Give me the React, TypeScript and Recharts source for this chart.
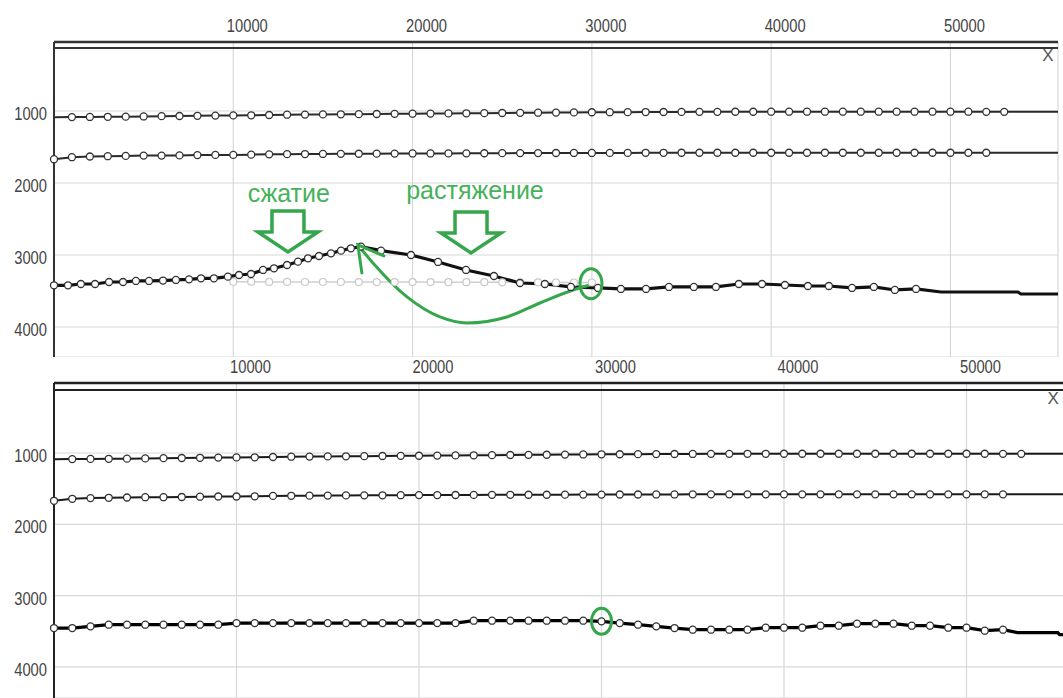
import { LineChart, Line, XAxis, YAxis, CartesianGrid, ReferenceLine, ReferenceDot } from 'recharts';

// ticks
const xTicks = [10000, 20000, 30000, 40000, 50000];
const yTicks = [1000, 2000, 3000, 4000];

// horizon 1 (markers 1000..53000 m)
const h1X = [1000, 2000, 3000, 4000, 5000, 6000, 7000, 8000, 9000, 10000, 11000, 12000, 13000, 14000, 15000, 16000, 17000, 18000, 19000, 20000, 21000, 22000, 23000, 24000, 25000, 26000, 27000, 28000, 29000, 30000, 31000, 32000, 33000, 34000, 35000, 36000, 37000, 38000, 39000, 40000, 41000, 42000, 43000, 44000, 45000, 46000, 47000, 48000, 49000, 50000, 51000, 52000, 53000];
const h1Depth = [1085, 1083, 1081, 1079, 1076, 1072, 1070, 1067, 1064, 1062, 1060, 1056, 1052, 1050, 1048, 1046, 1044, 1042, 1040, 1038, 1036, 1034, 1032, 1030, 1028, 1026, 1024, 1022, 1020, 1018, 1017, 1016, 1015, 1014, 1013, 1012, 1012, 1011, 1011, 1010, 1010, 1010, 1010, 1010, 1010, 1010, 1010, 1010, 1010, 1010, 1010, 1012, 1012];
const h1HeadX = [0];
const h1HeadDepth = [1088];
const h1TailX = [56000];
const h1TailDepth = [1012];

// horizon 2 (markers 0..52000 m)
const h2X = [0, 1000, 2000, 3000, 4000, 5000, 6000, 7000, 8000, 9000, 10000, 11000, 12000, 13000, 14000, 15000, 16000, 17000, 18000, 19000, 20000, 21000, 22000, 23000, 24000, 25000, 26000, 27000, 28000, 29000, 30000, 31000, 32000, 33000, 34000, 35000, 36000, 37000, 38000, 39000, 40000, 41000, 42000, 43000, 44000, 45000, 46000, 47000, 48000, 49000, 50000, 51000, 52000];
const h2Depth = [1670, 1642, 1632, 1628, 1624, 1620, 1620, 1617, 1613, 1610, 1610, 1607, 1602, 1600, 1598, 1597, 1595, 1594, 1593, 1592, 1590, 1590, 1589, 1588, 1587, 1586, 1585, 1585, 1584, 1583, 1583, 1582, 1582, 1581, 1581, 1580, 1580, 1580, 1580, 1580, 1580, 1580, 1580, 1580, 1580, 1580, 1580, 1580, 1580, 1580, 1580, 1580, 1580];
const h2TailX = [56000];
const h2TailDepth = [1580];

// horizon 3, top panel (deformed)
const h3TopX = [0, 780, 1500, 2290, 3070, 3850, 4570, 5300, 6080, 6800, 7530, 8200, 8920, 9700, 10320, 10990, 11660, 12270, 13000, 13610, 14170, 14780, 15450, 16010, 16560, 17120, 18240, 19910, 21420, 22980, 24540, 25990, 27380, 28830, 30340, 31620, 33020, 34300, 35690, 36920, 38200, 39490, 40770, 42050, 43220, 44510, 45730, 46900, 48080];
const h3TopDepth = [3421, 3421, 3403, 3403, 3375, 3375, 3361, 3361, 3355, 3347, 3338, 3324, 3324, 3301, 3278, 3264, 3208, 3185, 3139, 3093, 3046, 3014, 2977, 2940, 2907, 2884, 2940, 3000, 3097, 3208, 3292, 3389, 3403, 3444, 3458, 3472, 3472, 3444, 3444, 3444, 3403, 3403, 3417, 3431, 3431, 3458, 3444, 3486, 3472];
const h3TopTailX = [49470, 53760, 53930, 56000];
const h3TopTailDepth = [3514, 3514, 3542, 3542];

// horizon 3, top panel, original position (grey)
const h3OrigX = [10000, 11000, 12000, 13000, 14000, 15000, 16000, 17000, 18000, 19000, 20000, 21000, 22000, 23000, 24000, 25000, 26000, 27000, 28000, 29000, 30000];
const h3OrigDepth = [3372, 3372, 3374, 3374, 3375, 3375, 3375, 3376, 3376, 3376, 3377, 3377, 3378, 3378, 3378, 3380, 3380, 3380, 3382, 3382, 3382];

// horizon 3, bottom panel (restored)
const h3BotX = [0, 1000, 2000, 3000, 4000, 5000, 6000, 7000, 8000, 9000, 10000, 11000, 12000, 13000, 14000, 15000, 16000, 17000, 18000, 19000, 20000, 21000, 22000, 23000, 24000, 25000, 26000, 27000, 28000, 29000, 30000, 31000, 32000, 33000, 34000, 35000, 36000, 37000, 38000, 39000, 40000, 41000, 42000, 43000, 44000, 45000, 46000, 47000, 48000, 49000, 50000, 51000, 52000];
const h3BotDepth = [3455, 3455, 3431, 3408, 3408, 3408, 3408, 3408, 3408, 3408, 3385, 3385, 3385, 3385, 3385, 3385, 3385, 3385, 3385, 3385, 3385, 3385, 3385, 3352, 3352, 3352, 3352, 3352, 3352, 3352, 3361, 3385, 3408, 3431, 3455, 3478, 3478, 3478, 3478, 3450, 3450, 3450, 3422, 3422, 3394, 3394, 3394, 3422, 3422, 3450, 3450, 3492, 3478];
const h3BotTailX = [52800, 55000, 55100, 56000];
const h3BotTailDepth = [3520, 3520, 3548, 3548];

// green curved arrow (from the restored point back to the crest)
const arrowX = [16950, 17790, 19690, 21530, 23030, 25260, 27100, 28950, 29890];
const arrowDepth = [2861, 3111, 3583, 3861, 3944, 3861, 3667, 3486, 3417];

const GREEN = '#35a64b';
const TEXT_GREEN = '#45b15a';
const FONT = '"Liberation Sans", Arial, sans-serif';

const pts = (xs: number[], ds: number[]) => xs.map((x, i) => ({ x, d: ds[i] }));

const XTick = ({ x, y, payload }: any) => (
  <g transform={`translate(${x + 14},${y - 2})`}>
    <text transform="scale(0.82,1)" textAnchor="middle" fontSize={18} fontFamily={FONT} fill="#444">
      {payload.value}
    </text>
  </g>
);

const YTick = ({ x, y, payload }: any) => (
  <g transform={`translate(${x + 1},${y + 9})`}>
    <text transform="scale(0.82,1)" textAnchor="end" fontSize={18} fontFamily={FONT} fill="#444">
      {payload.value}
    </text>
  </g>
);

const markDot = { r: 3.5, fill: '#fff', stroke: '#333', strokeWidth: 1.3 };
const greyDot = { r: 3.5, fill: '#fff', stroke: '#c8c8c8', strokeWidth: 1.2 };

const hollowArrow = (props: any) => {
  const { cx, cy } = props;
  const d = `M${cx - 16},${cy - 41} L${cx + 16},${cy - 41} L${cx + 16},${cy - 20} L${cx + 30},${cy - 20} L${cx},${cy} L${cx - 30},${cy - 20} L${cx - 16},${cy - 20} Z`;
  return <path d={d} fill="none" stroke={GREEN} strokeWidth={3.5} strokeLinejoin="miter" />;
};

const label = (text: string) => (props: any) => (
  <text x={props.cx} y={props.cy} textAnchor="middle" fontSize={25} fontFamily={FONT} fill={TEXT_GREEN}>
    {text}
  </text>
);

const ellipse = (rx: number, ry: number) => (props: any) => (
  <ellipse cx={props.cx} cy={props.cy} rx={rx} ry={ry} fill="none" stroke={GREEN} strokeWidth={3} />
);

const arrowHead = (props: any) => {
  const { cx, cy } = props;
  return (
    <path d={`M${cx + 4},${cy + 28} L${cx},${cy} L${cx + 26},${cy + 11}`} fill="none" stroke={GREEN} strokeWidth={3} strokeLinecap="round" />
  );
};

const axisText = (value: string) => (props: any) => (
  <text x={props.cx} y={props.cy} textAnchor="middle" fontSize={17} fontFamily={FONT} fill="#555">
    {value}
  </text>
);

export default function App() {
  const h1Path = [...pts(h1HeadX, h1HeadDepth), ...pts(h1X, h1Depth), ...pts(h1TailX, h1TailDepth)];
  const h2Path = [...pts(h2X, h2Depth), ...pts(h2TailX, h2TailDepth)];
  const h3TopPath = [...pts(h3TopX, h3TopDepth), ...pts(h3TopTailX, h3TopTailDepth)];
  const h3BotPath = [...pts(h3BotX, h3BotDepth), ...pts(h3BotTailX, h3BotTailDepth)];

  return (
    <div style={{ position: 'absolute', left: 0, top: 0, width: 1063, height: 698, background: '#fff', overflow: 'hidden' }}>
      <div style={{ position: 'absolute', left: 0, top: 0 }}>
        <LineChart width={1063} height={357} margin={{ top: 0, right: 5, left: 0, bottom: 0 }}>
          <CartesianGrid stroke="#d8d8d8" strokeWidth={1.2} />
          <XAxis
            dataKey="x"
            type="number"
            orientation="top"
            domain={[0, 56000]}
            ticks={xTicks}
            height={42}
            tickLine={false}
            axisLine={{ stroke: '#333', strokeWidth: 2.5 }}
            tick={<XTick />}
          />
          <YAxis
            dataKey="d"
            type="number"
            domain={[42, 4417]}
            reversed
            ticks={yTicks}
            width={54}
            tickLine={false}
            axisLine={{ stroke: '#333', strokeWidth: 2 }}
            tick={<YTick />}
          />
          <ReferenceLine y={125} stroke="#333" strokeWidth={2} />
          <Line data={h1Path} dataKey="d" stroke="#2a2a2a" strokeWidth={2} dot={false} isAnimationActive={false} />
          <Line data={pts(h1X, h1Depth)} dataKey="d" stroke="none" dot={markDot} isAnimationActive={false} />
          <Line data={h2Path} dataKey="d" stroke="#2a2a2a" strokeWidth={2} dot={false} isAnimationActive={false} />
          <Line data={pts(h2X, h2Depth)} dataKey="d" stroke="none" dot={markDot} isAnimationActive={false} />
          <Line data={pts(h3OrigX, h3OrigDepth)} dataKey="d" stroke="#cfcfcf" strokeWidth={1.5} dot={greyDot} isAnimationActive={false} />
          <Line data={h3TopPath} dataKey="d" stroke="#111" strokeWidth={3.2} dot={false} isAnimationActive={false} />
          <Line data={pts(h3TopX, h3TopDepth)} dataKey="d" stroke="none" dot={markDot} isAnimationActive={false} />
          <Line data={pts(arrowX, arrowDepth)} dataKey="d" type="monotone" stroke={GREEN} strokeWidth={3} dot={false} isAnimationActive={false} />
          <ReferenceDot x={16950} y={2861} r={1} ifOverflow="visible" shape={arrowHead} />
          <ReferenceDot x={29950} y={3400} r={1} ifOverflow="visible" shape={ellipse(11, 15)} />
          <ReferenceDot x={13050} y={2958} r={1} ifOverflow="visible" shape={hollowArrow} />
          <ReferenceDot x={23260} y={2972} r={1} ifOverflow="visible" shape={hollowArrow} />
          <ReferenceDot x={13100} y={2264} r={1} ifOverflow="visible" shape={label('сжатие')} />
          <ReferenceDot x={23480} y={2222} r={1} ifOverflow="visible" shape={label('растяжение')} />
          <ReferenceDot x={55440} y={306} r={1} ifOverflow="visible" shape={axisText('X')} />
        </LineChart>
      </div>
      <div style={{ position: 'absolute', left: 0, top: 355 }}>
        <LineChart width={1076} height={343} margin={{ top: 0, right: 0, left: 0, bottom: 0 }}>
          <CartesianGrid stroke="#d8d8d8" strokeWidth={1.2} />
          <XAxis
            dataKey="x"
            type="number"
            orientation="top"
            domain={[0, 56000]}
            ticks={xTicks}
            height={28}
            tickLine={false}
            axisLine={{ stroke: '#222', strokeWidth: 2.5 }}
            tick={<XTick />}
          />
          <YAxis
            dataKey="d"
            type="number"
            domain={[18, 4436]}
            reversed
            ticks={yTicks}
            width={54}
            tickLine={false}
            axisLine={{ stroke: '#222', strokeWidth: 2 }}
            tick={<YTick />}
          />
          <ReferenceLine y={116} stroke="#222" strokeWidth={2} />
          <Line data={h1Path} dataKey="d" stroke="#1a1a1a" strokeWidth={2} dot={false} isAnimationActive={false} />
          <Line data={pts(h1X, h1Depth)} dataKey="d" stroke="none" dot={markDot} isAnimationActive={false} />
          <Line data={h2Path} dataKey="d" stroke="#1a1a1a" strokeWidth={2} dot={false} isAnimationActive={false} />
          <Line data={pts(h2X, h2Depth)} dataKey="d" stroke="none" dot={markDot} isAnimationActive={false} />
          <Line data={h3BotPath} dataKey="d" stroke="#000" strokeWidth={3.2} dot={false} isAnimationActive={false} />
          <Line data={pts(h3BotX, h3BotDepth)} dataKey="d" stroke="none" dot={markDot} isAnimationActive={false} />
          <ReferenceDot x={30000} y={3360} r={1} ifOverflow="visible" shape={ellipse(10, 13)} />
          <ReferenceDot x={54750} y={313} r={1} ifOverflow="visible" shape={axisText('X')} />
        </LineChart>
      </div>
    </div>
  );
}
